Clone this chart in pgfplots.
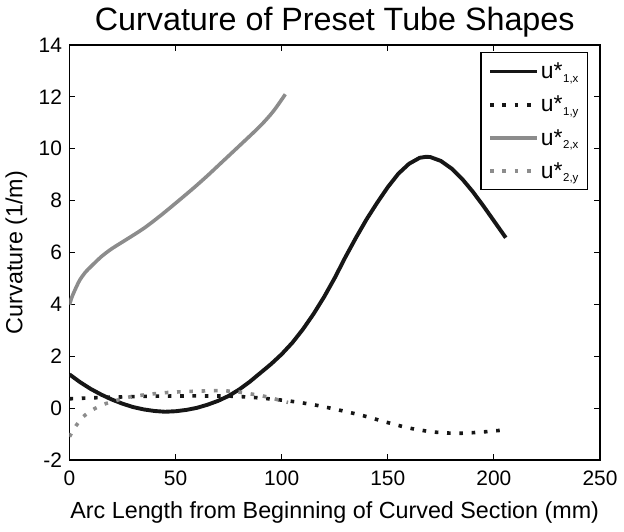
\documentclass[border=0pt]{standalone}
\usepackage{fontspec}
\setmainfont{Liberation Sans}
\usepackage{pgfplots}
\pgfplotsset{compat=1.18}
\definecolor{lgray}{RGB}{140,140,140}
\definecolor{dblack}{RGB}{22,22,22}
\newcommand{\us}[1]{u*\kern0.5bp\raisebox{-3.5bp}{\fontsize{11.5}{11.5}\selectfont #1}}
\begin{document}
\begin{tikzpicture}
\begin{axis}[
  width=530.5bp, height=415bp, scale only axis,
  xmin=0, xmax=250, ymin=-2, ymax=14,
  xtick={0,50,...,250}, ytick={-2,0,...,14},
  tick align=inside, major tick length=6bp,
  tick style={line width=1bp, black},
  axis line style={line width=1.4bp},
  /pgf/number format/assume math mode=true,
  ticklabel style={font=\fontsize{21}{21}\selectfont},
  xticklabel style={yshift=-7bp},
  yticklabel style={xshift=-4bp},
  title={Curvature of Preset Tube Shapes},
  title style={font=\fontsize{32.4}{32.4}\selectfont, at={(axis description cs:0.5,1.02)}, anchor=base},
  xlabel={Arc Length from Beginning of Curved Section (mm)},
  xlabel style={font=\fontsize{23.4}{23.4}\selectfont, at={(axis description cs:0.5,-0.14)}, anchor=base},
  ylabel={Curvature (1/m)},
  ylabel style={font=\fontsize{23.4}{23.4}\selectfont, at={(axis description cs:-0.1,0.5)}, anchor=center},
  legend style={at={(rel axis cs:0.9774,0.9824)}, anchor=north east, draw=black, line width=1.2bp,
    font=\fontsize{23}{23}\selectfont, row sep=12bp, inner xsep=7bp, inner ysep=8bp,
    cells={anchor=west}},
  legend image code/.code={\draw[#1] (0bp,0bp) -- (47bp,0bp);},
]
\addplot[dblack, line width=3.9bp] coordinates {
(0,1.30) (5,1.00) (10,0.74) (15,0.52) (20,0.33) (25,0.17) (30,0.04) (35,-0.05) (40,-0.11)
(45,-0.14) (50,-0.12) (55,-0.07) (60,0.01) (65,0.13) (70,0.28) (75,0.47) (80,0.72)
(85,1.02) (90,1.36) (95,1.70) (100,2.08) (105,2.52) (110,3.04) (115,3.63) (120,4.29)
(125,5.02) (130,5.82) (135,6.57) (140,7.28) (145,7.92) (150,8.52) (155,9.04) (160,9.42)
(165,9.65) (168,9.69) (170,9.68) (175,9.53) (180,9.24) (185,8.84) (190,8.35) (195,7.80)
(200,7.22) (205.6,6.57)};
\addlegendentry{\us{1,x}}
\addplot[dblack, line width=3.6bp, line cap=butt, dash pattern=on 3.6bp off 8.7bp, smooth] coordinates {
(0,0.36) (12,0.40) (24,0.43) (41,0.46) (58,0.47) (76,0.46) (87,0.41) (95,0.35) (104,0.27)
(115.7,0.12) (127.3,-0.08) (138.3,-0.29) (149.2,-0.54) (160.2,-0.77) (171.6,-0.92)
(183.1,-0.97) (194.6,-0.92) (206.3,-0.83)};
\addlegendentry{\us{1,y}}
\addplot[lgray, line width=3.6bp, smooth] coordinates {
(0,3.99) (1,4.25) (2,4.45) (3.5,4.72) (5,4.96) (7.5,5.24) (10,5.45) (15,5.84) (20,6.15)
(27,6.51) (35,6.93) (42.7,7.41) (50,7.90) (58.4,8.48) (65,8.96) (71,9.42) (80.4,10.14)
(89.9,10.88) (96.1,11.45) (101.7,12.1)};
\addlegendentry{\us{2,x}}
\addplot[lgray, line width=3.6bp, line cap=butt, dash pattern=on 3.6bp off 8.7bp, smooth] coordinates {
(0,-1.1) (3,-0.69) (6.5,-0.33) (11.2,-0.05) (16.3,0.15) (21.5,0.28) (27,0.41) (33.2,0.49)
(44.3,0.59) (55.3,0.64) (67,0.67) (72.5,0.67) (78.9,0.63) (84.3,0.56) (89.9,0.49)
(96.1,0.37) (100.9,0.26) (103,0.22)};
\addlegendentry{\us{2,y}}
\end{axis}
\pgfresetboundingbox
\path[use as bounding box] ([shift={(-69.5bp,-72bp)}]current axis.south west) rectangle ([shift={(24bp,45bp)}]current axis.north east);
\end{tikzpicture}
\end{document}
